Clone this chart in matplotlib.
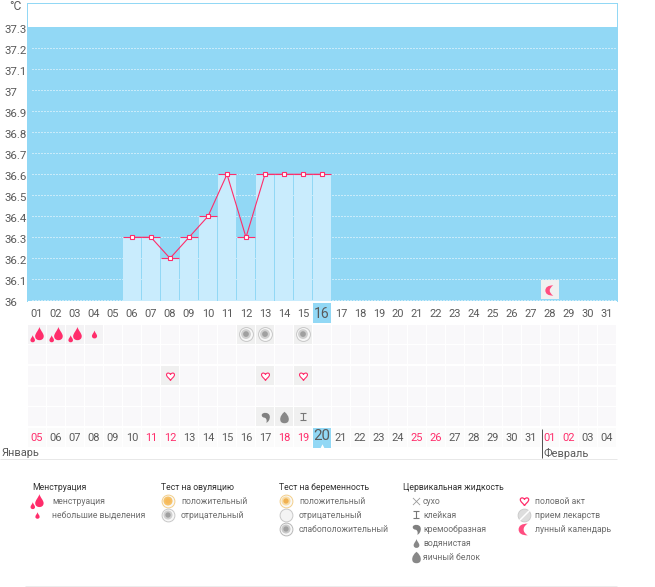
import numpy as np
import matplotlib
matplotlib.use('Agg')
import matplotlib.pyplot as plt
from matplotlib.path import Path
from matplotlib.transforms import ScaledTranslation

plt.rcParams['font.family'] = ['Roboto', 'DejaVu Sans']

# chart values
temp_days = [6, 7, 8, 9, 10, 11, 12, 13, 14, 15, 16]
temps = [36.3, 36.3, 36.2, 36.3, 36.4, 36.6, 36.3, 36.6, 36.6, 36.6, 36.6]
y_ticks = [36, 36.1, 36.2, 36.3, 36.4, 36.5, 36.6, 36.7, 36.8, 36.9, 37, 37.1, 37.2, 37.3]
y_labels = ['36', '36.1', '36.2', '36.3', '36.4', '36.5', '36.6', '36.7', '36.8', '36.9', '37', '37.1', '37.2', '37.3']
days = list(range(1, 32))
top_labels = ['%02d' % d for d in days]
bottom_labels = ['%02d' % d for d in list(range(5, 32)) + [1, 2, 3, 4]]
bottom_red = ['05', '11', '12', '18', '19', '25', '26', '01', '02']
today = 16

heavy_days = [1, 2, 3]
light_days = [4]
ovul_neg_days = [12, 13, 15]
heart_days = [8, 13, 15]
creamy_days = [13]
eggwhite_days = [14]
sticky_days = [15]
moon_days = [28]

BLUE = '#92d8f5'
BAR = '#c9ecfd'
PINK = '#ff2d6b'
GREY = '#5a5a5a'
TILE = '#f9f8fa'
TILE_ON = '#f0f0f0'
W, H = 655, 587


def px_axes(fig, x0, y0, x1, y1):
    return fig.add_axes([x0 / W, 1 - y1 / H, (x1 - x0) / W, (y1 - y0) / H])


def fs(px):
    return px * 0.72


# marker shapes
C3 = Path.CURVE3
C4 = Path.CURVE4
M = Path.MOVETO
L = Path.LINETO
DROP = Path([(0, 1), (0.15, 0.45), (0.65, 0.05), (0.65, -0.4), (0.65, -0.8), (0.35, -1), (0, -1),
             (-0.35, -1), (-0.65, -0.8), (-0.65, -0.4), (-0.65, 0.05), (-0.15, 0.45), (0, 1)],
            [M, C4, C4, C4, C4, C4, C4, C4, C4, C4, C4, C4, C4])
DROP2 = Path.make_compound_path(
    Path(DROP.vertices * 0.85 + [0.25, 0.12], DROP.codes),
    Path(DROP.vertices * 0.45 + [-0.62, -0.55], DROP.codes))
HEART = Path([(0, -1), (-0.3, -0.45), (-1, -0.1), (-1, 0.45), (-1, 0.95), (-0.3, 1.05), (0, 0.5),
              (0.3, 1.05), (1, 0.95), (1, 0.45), (1, -0.1), (0.3, -0.45), (0, -1)],
             [M, C4, C4, C4, C4, C4, C4, C4, C4, C4, C4, C4, C4])
COMMA = Path([(-0.7, 0.45), (-0.7, 1.0), (0.7, 1.1), (0.8, 0.2), (0.85, -0.4), (0.5, -0.85), (0.15, -1),
              (0.3, -0.6), (0.2, -0.2), (-0.1, -0.05), (-0.45, 0), (-0.7, 0.1), (-0.7, 0.45)],
             [M, C4, C4, C4, C4, C4, C4, C4, C4, C4, C4, C4, C4])
EGG = Path([(0, 1), (0.75, 0.4), (0.75, -0.3), (0.75, -1), (0, -1), (-0.75, -1), (-0.75, -0.3), (-0.75, 0.4), (0, 1)],
           [M, C3, C3, C3, C3, C3, C3, C3, C3])
STICKY = Path([(-0.85, 1), (0.85, 1), (0, 1), (0, -0.85), (-0.85, -0.85), (0.85, -0.85)], [M, L, M, L, M, L])
MOON = Path([(0.55, 1), (-1, 1), (-1, 0), (-1, -1), (0.55, -1), (-0.15, -0.6), (-0.15, 0), (-0.15, 0.6), (0.55, 1)],
            [M, C3, C3, C3, C3, C3, C3, C3, C3])
SLASH = Path([(-0.6, -0.6), (0.6, 0.6)], [M, L])


def ring(ax, x, y, edge, mid, core, z=5, size=100):
    ax.scatter(x, y, s=size, facecolor='#f8f8f8', edgecolor=edge, linewidth=0.7, zorder=z)
    ax.scatter(x, y, s=size * 0.5, facecolor=mid, edgecolor='none', zorder=z + 1)
    ax.scatter(x, y, s=size * 0.17, facecolor=core, edgecolor='none', zorder=z + 2)


fig = plt.figure(figsize=(W / 100, H / 100), dpi=100, facecolor='white')

# temperature chart
ax = px_axes(fig, 27, 3, 617, 301)
ax.set_xlim(0.5 - 0.5 / 19, 0.5 - 0.5 / 19 + 590 / 19)
ax.set_ylim(36 - 0.7 / 210, 36 + 297.3 / 210)
ax.set_facecolor('white')
ax.axhspan(ax.get_ylim()[0], 37.3, color=BLUE, lw=0, zorder=0)

x0_grid = 0.5 + 4 / 19
ax.hlines(y_ticks[:-1], x0_grid, ax.get_xlim()[1], colors='white', linestyles=(0, (1, 2)), linewidth=0.72, zorder=1)
ax.bar(temp_days, np.array(temps) - ax.get_ylim()[0], bottom=ax.get_ylim()[0], width=18 / 19, color=BAR, lw=0, zorder=2)
ax.hlines(temps, np.array(temp_days) - 0.47, np.array(temp_days) + 0.47, colors=PINK, linewidth=0.8, zorder=3)
ax.plot(temp_days, temps, color=PINK, linewidth=0.8, marker='s', markersize=3.2,
        markerfacecolor='white', markeredgecolor=PINK, markeredgewidth=0.8, zorder=4)

ax.bar(moon_days, 0.09, bottom=36.005, width=18 / 19, color=TILE_ON, lw=0, zorder=2)
ax.scatter(moon_days, [36.05] * len(moon_days), marker=MOON, s=55, color='#ff4d80', lw=0, zorder=4)

for side in ['left', 'top', 'right']:
    ax.spines[side].set_color(BLUE)
    ax.spines[side].set_linewidth(0.72)
ax.spines['bottom'].set_visible(False)
ax.set_xticks([])
ax.set_yticks(y_ticks)
ax.set_yticklabels(y_labels, fontsize=fs(11.5), color=GREY)
ax.tick_params(axis='y', length=0, pad=16.5)
for lab in ax.get_yticklabels():
    lab.set_ha('left')
    lab.set_transform(lab.get_transform() + ScaledTranslation(0, -2 / 72 * 0.72, fig.dpi_scale_trans))

# day table below the chart
tb = px_axes(fig, 27, 303, 617, 448)
tb.set_xlim(ax.get_xlim())
tb.set_ylim(6.5, -0.5)
tb.axis('off')

for row in range(1, 7):
    tb.bar(days, 0.92, bottom=row - 0.46, width=18 / 19, color=TILE if row < 6 else '#fbfbfb', lw=0, zorder=1)

for row, ds in [(1, ovul_neg_days), (3, heart_days), (5, creamy_days + eggwhite_days + sticky_days)]:
    tb.bar(ds, 0.92, bottom=row - 0.46, width=18 / 19, color=TILE_ON, lw=0, zorder=2)
tb.bar(heavy_days + light_days, 0.92, bottom=0.54, width=18 / 19, color='#f4f3f5', lw=0, zorder=2)

tb.bar([today], 0.97, bottom=-0.5, width=18 / 19, color=BLUE, lw=0, zorder=2)
tb.bar([today], 0.97, bottom=5.53, width=18 / 19, color=BLUE, lw=0, zorder=2)
tb.scatter([today], [6.42], marker='^', s=10, color='white', lw=0, zorder=4)

tb.scatter(heavy_days, [1] * len(heavy_days), marker=DROP2, s=125, color=PINK, lw=0, zorder=4)
tb.scatter(light_days, [1] * len(light_days), marker=DROP, s=32, color=PINK, lw=0, zorder=4)
ring(tb, ovul_neg_days, [1] * len(ovul_neg_days), '#c8c8c8', '#d0d0d0', '#a0a0a0')
tb.scatter(heart_days, [3] * len(heart_days), marker=HEART, s=36, facecolor='white', edgecolor=PINK, linewidth=0.8, zorder=4)
tb.scatter(creamy_days, [5] * len(creamy_days), marker=COMMA, s=72, color='#808080', lw=0, zorder=4)
tb.scatter(eggwhite_days, [5] * len(eggwhite_days), marker=EGG, s=68, color='#888888', lw=0, zorder=4)
tb.scatter(sticky_days, [5] * len(sticky_days), marker=STICKY, s=34, facecolor='none', edgecolor='#777777', linewidth=0.8, zorder=4)

for d, lab in zip(days, top_labels):
    big = d == today
    tb.text(d, 0.02, lab, ha='center', va='center', fontsize=fs(14 if big else 11), color=GREY, zorder=5)
for d, lab in zip(days, bottom_labels):
    big = d == today
    tb.text(d, 6.0 if not big else 5.92, lab, ha='center', va='center', fontsize=fs(15 if big else 11),
            color=PINK if lab in bottom_red else GREY, zorder=5)

# month labels and legend in plain pixel coordinates
lg = px_axes(fig, 0, 0, W, H)
lg.set_xlim(0, W)
lg.set_ylim(H, 0)
lg.axis('off')
lg.patch.set_alpha(0)

lg.text(9, 6, '°C', fontsize=fs(12), color=GREY, va='center')
lg.text(2, 453, 'Январь', fontsize=fs(11), color=GREY, va='center')
lg.text(544, 453, 'Февраль', fontsize=fs(11), color=GREY, va='center')
lg.hlines(458.5, 0, 617, colors='#e8e8e8', linewidth=0.72)
lg.vlines(541.5, 429, 458, colors='#555555', linewidth=0.72)
lg.hlines(586, 25, 617, colors='#ececec', linewidth=0.72)

LBL = '#6e6e6e'
HEAD = '#333333'
lg_heads = [('Менструация', 32), ('Тест на овуляцию', 161), ('Тест на беременность', 279), ('Цервикальная жидкость', 403)]
for txt, xh in lg_heads:
    lg.text(xh, 487, txt, fontsize=fs(8.7), color=HEAD, va='center')

lg_items = [
    (52, 501, 'менструация'), (52, 515, 'небольшие выделения'),
    (181, 501, 'положительный'), (181, 515, 'отрицательный'),
    (299, 501, 'положительный'), (299, 515, 'отрицательный'), (299, 529, 'слабоположительный'),
    (423, 501, 'сухо'), (423, 515, 'клейкая'), (423, 529, 'кремообразная'),
    (423, 543, 'водянистая'), (423, 557, 'яичный белок'),
    (535, 501, 'половой акт'), (535, 515, 'прием лекарств'), (535, 529, 'лунный календарь'),
]
for xt, yt, txt in lg_items:
    lg.text(xt, yt, txt, fontsize=fs(8.7), color=LBL, va='center')

lg.scatter([37], [501], marker=DROP2, s=120, color=PINK, lw=0)
lg.scatter([37], [515], marker=DROP, s=22, color=PINK, lw=0)
ring(lg, [168], [501], '#f4cf8a', '#f6c268', '#f6b95a', size=85)
ring(lg, [168], [515], '#c8c8c8', '#d0d0d0', '#a0a0a0', size=85)
ring(lg, [286], [501], '#f4cf8a', '#f8dca4', '#f0b050', size=85)
lg.scatter([286], [515], s=85, facecolor='#f4f4f4', edgecolor='#c8c8c8', linewidth=0.7)
ring(lg, [286], [529], '#b8b8b8', '#c8c8c8', '#a0a0a0', size=85)
lg.scatter([416], [501], marker='x', s=26, color='#999999', linewidth=0.6)
lg.scatter([416], [515], marker=STICKY, s=30, facecolor='none', edgecolor='#777777', linewidth=0.8)
lg.scatter([416], [529], marker=COMMA, s=72, color='#808080', lw=0)
lg.scatter([416], [543], marker=DROP, s=40, color='#888888', lw=0)
lg.scatter([416], [557], marker=EGG, s=68, color='#888888', lw=0)
lg.scatter([524], [501], marker=HEART, s=40, facecolor='white', edgecolor=PINK, linewidth=0.9)
lg.scatter([524], [515], s=85, facecolor='#dddddd', edgecolor='#c8c8c8', linewidth=0.6)
lg.scatter([524], [515], marker=SLASH, s=60, color='white', linewidth=1.1)
lg.scatter([524], [529], marker=MOON, s=72, color='#ff4d80', lw=0)

fig.savefig('out.png', dpi=100)
